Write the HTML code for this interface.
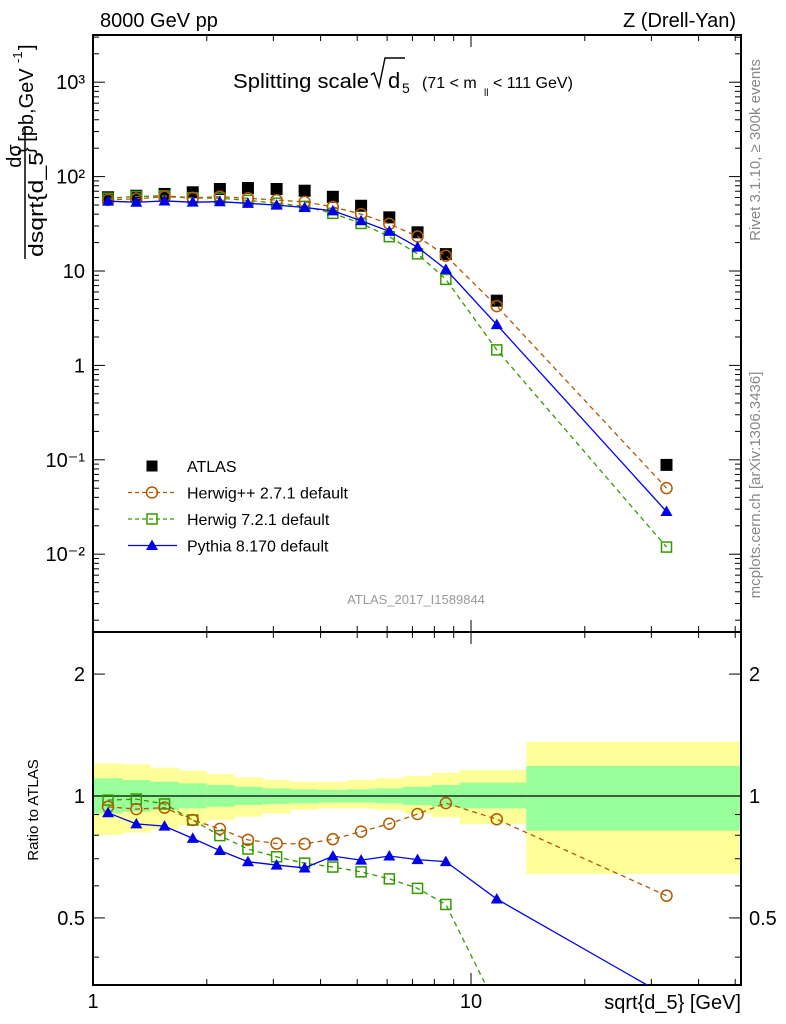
<!DOCTYPE html>
<html><head><meta charset="utf-8"><style>
html,body{margin:0;padding:0;background:#fff;width:786px;height:1024px;overflow:hidden;position:relative;}
svg{display:block;position:absolute;left:0;top:0;font-family:"Liberation Sans",sans-serif;overflow:hidden;}
</style></head><body>
<svg id="c" width="786" height="1024" xmlns="http://www.w3.org/2000/svg">
<text x="100" y="27" font-size="20">8000 GeV pp</text>
<text x="736" y="27" font-size="20" text-anchor="end">Z (Drell-Yan)</text>
<g>
<text x="233" y="88" font-size="20" textLength="136" lengthAdjust="spacingAndGlyphs">Splitting scale</text>
<path d="M371,75 l3,-2 l5,14 l6,-29 h20" fill="none" stroke="#000" stroke-width="1.4"/>
<text x="388" y="88" font-size="22">d</text><text x="402" y="93" font-size="14">5</text>
<text x="422" y="88" font-size="16">(71 &lt; m</text>
<text x="484" y="96" font-size="10">ll</text>
<text x="493" y="88" font-size="16">&lt; 111 GeV)</text>
</g>
<g transform="rotate(-90)">
<text x="-156" y="21" font-size="20" text-anchor="middle">dσ</text>
<line x1="-259" y1="25" x2="-128" y2="25" stroke="#000" stroke-width="1.5"/>
<text x="-257" y="43" font-size="20" textLength="105" lengthAdjust="spacingAndGlyphs">dsqrt{d_5</text>
<text x="-154" y="33" font-size="20">} [pb,GeV</text>
<text x="-63" y="22" font-size="13">-1</text>
<text x="-50" y="33" font-size="20">]</text>
</g>
<text transform="translate(760,150) rotate(-90)" font-size="15" fill="#888" text-anchor="middle">Rivet 3.1.10, ≥ 300k events</text>
<text transform="translate(760,485) rotate(-90)" font-size="15" fill="#888" text-anchor="middle">mcplots.cern.ch [arXiv:1306.3436]</text>
<text x="416" y="604" font-size="13" fill="#999" text-anchor="middle">ATLAS_2017_I1589844</text>
<text transform="translate(38,810) rotate(-90)" font-size="15" text-anchor="middle">Ratio to ATLAS</text>
<text x="741" y="1009" font-size="20" text-anchor="end">sqrt{d_5} [GeV]</text>
<g id="g"></g>
</svg>
<script>
const centers=[1.096,1.302,1.546,1.836,2.166,2.57,3.06,3.63,4.31,5.12,6.08,7.22,8.58,11.7,32.9];
const edges=[1,1.2,1.42,1.69,2,2.37,2.81,3.33,3.95,4.69,5.57,6.61,7.86,9.33,14,52];
const atlas=[60.4,62.7,65.5,68.2,73.9,75.7,73.9,70.9,61.1,49.1,37.0,25.7,15.1,4.85,0.0883];
const herwigpp=[56.8,58.2,61.3,59.5,61.3,59.0,56.4,54.0,47.8,40.1,31.6,23.2,14.5,4.25,0.0501];
const herwig7=[59.0,61.6,62.6,59.5,59.0,56.0,52.3,48.4,40.8,31.9,23.1,15.2,8.15,1.46,0.0119];
const pythia=[54.9,53.5,55.2,53.6,54.2,52.1,49.9,47.1,43.4,34.1,26.3,17.9,10.4,2.70,0.0283];
const yelUp=[1.204,1.197,1.175,1.155,1.133,1.112,1.095,1.085,1.085,1.095,1.106,1.120,1.142,1.159,1.362];
const yelDn=[0.801,0.812,0.827,0.848,0.872,0.889,0.906,0.924,0.932,0.932,0.924,0.906,0.886,0.853,0.642];
const grnUp=[1.106,1.095,1.085,1.075,1.065,1.054,1.044,1.039,1.035,1.039,1.044,1.054,1.065,1.079,1.186];
const grnDn=[0.906,0.915,0.924,0.932,0.941,0.950,0.955,0.959,0.963,0.963,0.959,0.950,0.941,0.932,0.821];
const yTicks=[["10³",1000],["10²",100],["10",10],["1",1],["10⁻¹",0.1],["10⁻²",0.01]];
const rTicks=[["2",2],["1",1],["0.5",0.5]];

const NS="http://www.w3.org/2000/svg";
const g=document.getElementById('g');
const L=93,R=741,T=35,M=632,B=985;
const X=v=>L+Math.log10(v)*378;
const Y=v=>271-(Math.log10(v)-1)*94.4;
const RY=v=>796-Math.log10(v)*405;
function el(t,a,p){const e=document.createElementNS(NS,t);for(const k in a)e.setAttribute(k,a[k]);(p||g).appendChild(e);return e;}
const defs=el('defs',{});
const cp1=el('clipPath',{id:'cu'},defs);el('rect',{x:L,y:T,width:R-L,height:M-T},cp1);
const cp2=el('clipPath',{id:'cr'},defs);el('rect',{x:L,y:M,width:R-L,height:B-M},cp2);

const bands=el('g',{'clip-path':'url(#cr)'});


for(let i=0;i<centers.length;i++){
 const x0=X(edges[i]),x1=Math.min(X(edges[i+1]),R);
 const ry=el('rect',{x:x0,y:RY(yelUp[i]),width:x1-x0,height:RY(yelDn[i])-RY(yelUp[i]),fill:'#ffff99'},bands);
 
 
 const rg=el('rect',{x:x0,y:RY(grnUp[i]),width:x1-x0,height:RY(grnDn[i])-RY(grnUp[i]),fill:'#99ff99'},bands);
 
 
}
const one=el('line',{x1:L,x2:R,y1:RY(1),y2:RY(1),stroke:'#000','stroke-width':1.2});



for(const [y0,y1,nm] of [[T,M,'main-frame'],[M,B,'ratio-frame']]){
 const f=el('rect',{x:L,y:y0,width:R-L,height:y1-y0,fill:'none',stroke:'#000','stroke-width':2});
 
 
}
for(let d=0;d<2;d++)for(let m=1;m<10;m++){
 const v=m*Math.pow(10,d);const x=X(v);if(x>R)continue;
 const len=m===1?12:6;
 for(const [yb,yt] of [[M,T],[B,M]]){
  el('line',{x1:x,x2:x,y1:yb,y2:yb-len,stroke:'#000','stroke-width':1});
  el('line',{x1:x,x2:x,y1:yt,y2:yt+len,stroke:'#000','stroke-width':1});
 }
}
for(const [s,v] of [["1",1],["10",10]]){
 const t=el('text',{x:X(v),y:1008,'font-size':20,'text-anchor':'middle'});t.textContent=s;
 
 
}
for(let d=-3;d<4;d++)for(let m=1;m<10;m++){
 const v=m*Math.pow(10,d);const y=Y(v);if(y<T||y>M)continue;
 const len=m===1?12:6;
 el('line',{x1:L,x2:L+len,y1:y,y2:y,stroke:'#000','stroke-width':1});
 el('line',{x1:R,x2:R-len,y1:y,y2:y,stroke:'#000','stroke-width':1});
}
for(const [s,v] of yTicks){
 const t=el('text',{x:L-8,y:Y(v)+7,'font-size':20,'text-anchor':'end'});t.textContent=s;
 
 
}
for(const v of [0.4,0.5,0.6,0.7,0.8,0.9,1,2]){
 const y=RY(v);const len=(v===1||v===2||v===0.5)?12:6;
 el('line',{x1:L,x2:L+len,y1:y,y2:y,stroke:'#000','stroke-width':1});
 el('line',{x1:R,x2:R-len,y1:y,y2:y,stroke:'#000','stroke-width':1});
}
for(const [s,v] of rTicks){
 for(const [x,a] of [[L-8,'end'],[R+8,'start']]){
  const t=el('text',{x:x,y:RY(v)+7,'font-size':20,'text-anchor':a});t.textContent=s;
  
  
 }
}
function marker(p,type,x,y,col){
 if(type==='sq') return el('rect',{x:x-5,y:y-5,width:10,height:10,fill:'none',stroke:col,'stroke-width':1.5},p);
 if(type==='ci') return el('circle',{cx:x,cy:y,r:5.5,fill:'none',stroke:col,'stroke-width':1.5},p);
 if(type==='tr') return el('path',{d:`M${x},${y-6}L${x+6},${y+4.5}L${x-6},${y+4.5}Z`,fill:col},p);
 if(type==='bk') return el('rect',{x:x-6,y:y-6,width:12,height:12,fill:'#000'},p);
}
const series=[["herwig7",herwig7,'#339900','sq','5,4'],["herwigpp",herwigpp,'#b35900','ci','5,4'],["pythia",pythia,'#0000ee','tr','']];
const up=el('g',{'clip-path':'url(#cu)'});
const ad=el('g',{},up);


for(let i=0;i<centers.length;i++){
 const m=marker(ad,'bk',X(centers[i]),Y(atlas[i]));
 
 
}
for(const [nm,vals,col,mk,da] of series){
 const gg=el('g',{},up);
 
 
 el('polyline',{points:centers.map((c,i)=>X(c)+','+Y(vals[i])).join(' '),fill:'none',stroke:col,'stroke-width':1.3,'stroke-dasharray':da},gg);
 for(let i=0;i<centers.length;i++){const m=marker(gg,mk,X(centers[i]),Y(vals[i]),col);
  
  }
 const rg=el('g',{'clip-path':'url(#cr)'});
 
 
 el('polyline',{points:centers.map((c,i)=>X(c)+','+RY(vals[i]/atlas[i])).join(' '),fill:'none',stroke:col,'stroke-width':1.3,'stroke-dasharray':da},rg);
 for(let i=0;i<centers.length;i++){const m=marker(rg,mk,X(centers[i]),RY(vals[i]/atlas[i]),col);
  
  }
}
const lg=el('g',{});


const items=[["ATLAS",'#000','bk',''],["Herwig++ 2.7.1 default",'#b35900','ci','4,3'],["Herwig 7.2.1 default",'#339900','sq','4,3'],["Pythia 8.170 default",'#0000ee','tr','']];
items.forEach((it,i)=>{
 const y=466+i*26.5;
 const e=el('g',{},lg);
 
 
 if(i>0) el('line',{x1:128,x2:177,y1:y,y2:y,stroke:it[1],'stroke-width':1.3,'stroke-dasharray':it[3]},e);
 const m=marker(e,it[2],152,y,it[1]); if(i===0){m.setAttribute('x',146.5);m.setAttribute('y',y-5.5);m.setAttribute('width',11);m.setAttribute('height',11);}
 const t=el('text',{x:187,y:y+6,'font-size':16},e);t.textContent=it[0];
});
</script>
</body></html>
